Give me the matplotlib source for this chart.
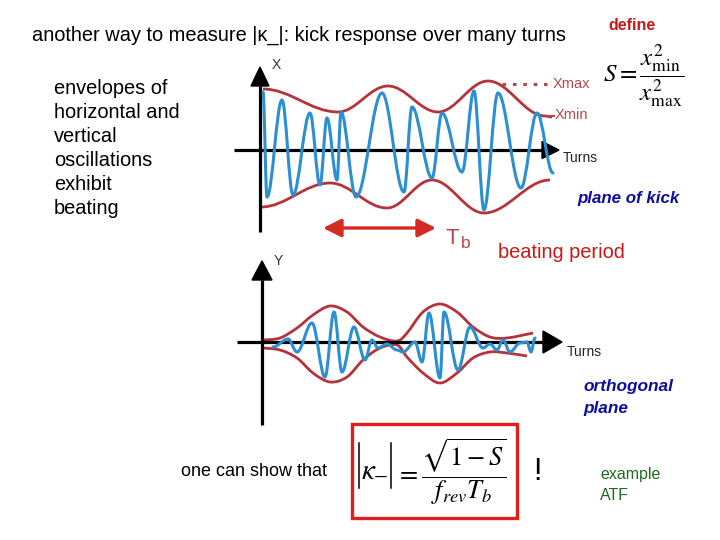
import matplotlib
matplotlib.use("Agg")
import matplotlib.pyplot as plt
from matplotlib.path import Path
from matplotlib.patches import PathPatch, Rectangle, Polygon

plt.rcParams['mathtext.fontset'] = 'stix'
plt.rcParams['font.family'] = ['Liberation Sans', 'DejaVu Sans']

# ---------------- data (pixel coordinates) ----------------
# horizontal plane (X): envelope extremes
x_env_up_x = [263, 338, 388, 438, 488, 545, 552]
x_env_up_y = [89, 112, 86, 112, 81, 116, 117]
x_env_lo_x = [261, 330, 387, 432, 484, 550]
x_env_lo_y = [207, 183, 208, 180, 213, 180]
# horizontal plane (X): oscillation extremes
x_osc_x = [263, 267, 282, 293, 310, 320, 327, 337, 341, 356, 382, 404, 412, 432,
           442, 462, 474, 484, 498, 521, 537, 553]
x_osc_y = [92, 197, 100, 195, 113, 185, 118, 180, 112, 197, 93, 192, 107, 178,
           113, 172, 91, 210, 93, 188, 113, 173]

# vertical plane (Y): envelopes
y_env_up_x = [263, 280, 297, 313, 330, 347, 363, 380, 397, 407, 423, 440, 457, 473, 490, 507, 533]
y_env_up_y = [340, 338, 328, 315, 306, 312, 327, 337, 341, 333, 312, 304, 312, 327, 337, 338, 333]
y_env_lo_x = [263, 280, 297, 313, 330, 347, 363, 380, 397, 407, 423, 440, 457, 473, 490, 507, 527]
y_env_lo_y = [348, 350, 358, 373, 382, 377, 360, 348, 345, 357, 373, 383, 373, 358, 352, 353, 356]
# vertical plane (Y): oscillation extremes
y_osc_x = [273, 288, 297, 312, 325, 334, 342, 354, 365, 372, 378, 387, 397, 403, 415, 422,
           429, 440, 444, 458, 470, 483, 490, 497, 503, 510, 520, 527, 531, 535]
y_osc_y = [347, 339, 352, 323, 377, 312, 372, 327, 360, 340, 348, 344, 350, 352, 342, 362,
           313, 378, 312, 370, 327, 348, 344, 350, 340, 352, 343, 342, 352, 338]

title = "another way to measure |\u03ba_|: kick response over many turns"
left_text = ["envelopes of", "horizontal and", "vertical", "oscillations", "exhibit", "beating"]

# ---------------- styles ----------------
BLUE = '#2b8fd0'
ENV = '#b5333a'
LAB = '#b84848'
DBLUE = '#0d0d9e'
RED = '#c81818'
GREEN = '#1f6b1f'


def wave_path(xs, ys, k=0.364):
    verts = [(xs[0], ys[0])]
    codes = [Path.MOVETO]
    for i in range(len(xs) - 1):
        dx = xs[i + 1] - xs[i]
        verts += [(xs[i] + k * dx, ys[i]), (xs[i + 1] - k * dx, ys[i + 1]), (xs[i + 1], ys[i + 1])]
        codes += [Path.CURVE4] * 3
    return Path(verts, codes)


def smooth_path(xs, ys):
    pts = list(zip(xs, ys))
    verts = [pts[0]]
    codes = [Path.MOVETO]
    n = len(pts)
    for i in range(n - 1):
        p0 = pts[max(i - 1, 0)]
        p1 = pts[i]
        p2 = pts[i + 1]
        p3 = pts[min(i + 2, n - 1)]
        c1 = (p1[0] + (p2[0] - p0[0]) / 6, p1[1] + (p2[1] - p0[1]) / 6)
        c2 = (p2[0] - (p3[0] - p1[0]) / 6, p2[1] - (p3[1] - p1[1]) / 6)
        verts += [c1, c2, p2]
        codes += [Path.CURVE4] * 3
    return Path(verts, codes)


fig = plt.figure(figsize=(7.2, 5.4), dpi=100)
ax = fig.add_axes([0, 0, 1, 1])
ax.set_xlim(0, 720)
ax.set_ylim(540, 0)
ax.axis('off')


def axes_arrows(x0, y0, vtop, vbot, hleft, hright, tip_v, tip_h, hw_v, hw_h):
    ax.plot([x0, x0], [vbot, vtop], color='black', lw=2.3, solid_capstyle='butt', zorder=3)
    ax.plot([hleft, hright], [y0, y0], color='black', lw=2.3, solid_capstyle='butt', zorder=3)
    ax.add_patch(Polygon([(x0 - hw_v, vtop), (x0 + hw_v, vtop), (x0, tip_v)],
                         closed=True, color='black', zorder=3))
    ax.add_patch(Polygon([(hright, y0 - hw_h), (hright, y0 + hw_h), (tip_h, y0)],
                         closed=True, color='black', zorder=3))


# ---- X diagram ----
axes_arrows(260, 150, 86, 232, 234, 542, 67, 559, 9, 8.5)
ax.add_patch(PathPatch(wave_path(x_env_up_x, x_env_up_y), fill=False, ec=ENV, lw=2.0, zorder=2))
ax.add_patch(PathPatch(wave_path(x_env_lo_x, x_env_lo_y), fill=False, ec=ENV, lw=2.0, zorder=2))
ax.add_patch(PathPatch(wave_path(x_osc_x, x_osc_y), fill=False, ec=BLUE, lw=2.2, zorder=4,
                       capstyle='round', joinstyle='round'))
ax.plot([502, 547], [84, 84], color=LAB, lw=2.2, ls=(0, (1.2, 2.2)), zorder=2)
ax.plot([547, 554], [116, 116], color=LAB, lw=1.5, zorder=2)
ax.text(553, 84, "Xmax", color=LAB, fontsize=10.5, va='center', ha='left')
ax.text(555, 115, "Xmin", color=LAB, fontsize=10.5, va='center', ha='left')
ax.text(276, 65, "X", color='#333333', fontsize=10, va='center', ha='center')
ax.text(563, 158, "Turns", color='#222222', fontsize=10, va='center', ha='left')

# ---- Tb arrow ----
ax.annotate('', xy=(323, 228), xytext=(436, 228),
            arrowprops=dict(arrowstyle='<|-|>,head_length=1.1,head_width=0.55', color='#d42a22',
                            lw=2.4, shrinkA=0, shrinkB=0))
ax.text(446, 239, "T", color=LAB, fontsize=16, va='center', ha='left')
ax.text(461, 244, "b", color=LAB, fontsize=12.5, va='center', ha='left')

# ---- Y diagram ----
axes_arrows(262, 342, 280, 425, 237, 543, 261, 562, 10, 11)
ax.add_patch(PathPatch(smooth_path(y_env_up_x, y_env_up_y), fill=False, ec=ENV, lw=2.0, zorder=2))
ax.add_patch(PathPatch(smooth_path(y_env_lo_x, y_env_lo_y), fill=False, ec=ENV, lw=2.0, zorder=2))
ax.add_patch(PathPatch(wave_path(y_osc_x, y_osc_y), fill=False, ec=BLUE, lw=2.2, zorder=4,
                       capstyle='round', joinstyle='round'))
ax.text(278, 261, "Y", color='#333333', fontsize=10, va='center', ha='center')
ax.text(567, 352, "Turns", color='#222222', fontsize=10, va='center', ha='left')

# ---- texts ----
ax.text(32, 35, title, fontsize=14.4, color='black', va='center', ha='left')
for i, line in enumerate(left_text):
    ax.text(54, 89 + 24 * i, line, fontsize=14.4, color='black', va='center', ha='left')

ax.text(608, 26, "define", fontsize=11.5, color=RED, weight='bold', va='center', ha='left')
ax.text(603, 76, r'$S=\dfrac{x^2_{\mathrm{min}}}{x^2_{\mathrm{max}}}$', fontsize=18,
        va='center', ha='left', color='black')

ax.text(577, 198, "plane of kick", fontsize=12.2, color=DBLUE, style='italic', weight='bold',
        va='center', ha='left')
ax.text(498, 252, "beating period", fontsize=14.4, color=RED, va='center', ha='left')
ax.text(583, 387, "orthogonal", fontsize=12.4, color=DBLUE, style='italic', weight='bold',
        va='center', ha='left')
ax.text(583, 409, "plane", fontsize=12.4, color=DBLUE, style='italic', weight='bold',
        va='center', ha='left')

ax.text(181, 471, "one can show that", fontsize=13, color='black', va='center', ha='left')
ax.add_patch(Rectangle((352, 424), 165, 94, fill=False, ec='#e01e1e', lw=2.4, zorder=5))
# |kappa_-| with tall bars
ax.plot([359, 359], [443, 488], color='black', lw=1.1)
ax.plot([391, 391], [443, 488], color='black', lw=1.1)
ax.text(375, 468, r'$\kappa_{-}$', fontsize=21, va='center', ha='center', color='black')
ax.text(396, 472, r'$=\dfrac{\sqrt{1-S}}{f_{rev}T_b}$', fontsize=19,
        va='center', ha='left', color='black')
ax.text(537, 472, "!", fontsize=22, color='black', va='center', ha='center')

ax.text(600, 474, "example", fontsize=11.5, color=GREEN, va='center', ha='left')
ax.text(600, 496, "ATF", fontsize=11.5, color=GREEN, va='center', ha='left')

fig.savefig('out.png', dpi=100)
